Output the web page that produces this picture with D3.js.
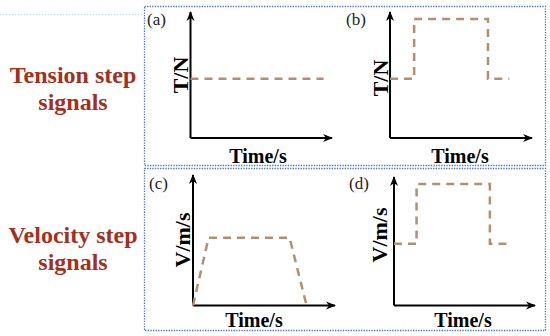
<!DOCTYPE html>
<html>
<head>
<meta charset="utf-8">
<script src="https://cdn.jsdelivr.net/npm/d3@7"></script>
<style>
  html, body { margin: 0; padding: 0; background: #fff; }
  svg { display: block; }
</style>
</head>
<body>
<svg id="chart"></svg>
<script>
(function(){

  // signal shapes, time / value in arbitrary 0..10 units
  const tensionA = [[0, 4.7], [9.4, 4.7]];
  const tensionB = [[0, 4.7], [1.7, 4.7], [1.7, 9.45], [6.9, 9.45], [6.9, 4.7], [8.4, 4.7]];
  const velocityC = [[0, 0], [1.1, 5.2], [6.8, 5.2], [8.0, 0]];
  const velocityD = [[0, 4.8], [1.6, 4.8], [1.6, 9.45], [6.8, 9.45], [6.8, 4.8], [8.4, 4.8]];

  const panelTags = ["(a)", "(b)", "(c)", "(d)"];
  const yTitles = ["T/N", "T/N", "V/m/s", "V/m/s"];
  const xTitle = "Time/s";
  const rowTitles = [["Tension step", "signals"], ["Velocity step", "signals"]];

  const width = 550, height = 336;
  const svg = d3.select("#chart").attr("width", width).attr("height", height);

  svg.append("defs").append("marker")
    .attr("id", "arrow")
    .attr("viewBox", "0 0 10 10")
    .attr("refX", 9).attr("refY", 5)
    .attr("markerWidth", 5).attr("markerHeight", 5)
    .attr("markerUnits", "strokeWidth")
    .attr("orient", "auto")
    .append("path")
    .attr("d", "M0,1 L10,5 L0,9 L3,5 Z")
    .attr("fill", "#000");

  // dotted frames for the two rows
  const frames = [{x: 144, y: 6, w: 401, h: 159}, {x: 144, y: 168, w: 401, h: 162}];
  svg.selectAll("rect.frame")
    .data(frames)
    .enter().append("rect")
      .attr("class", "frame")
      .attr("x", d => d.x + 0.5).attr("y", d => d.y + 0.5)
      .attr("width", d => d.w).attr("height", d => d.h)
      .attr("fill", "none")
      .attr("stroke", "#4a6fd0")
      .attr("stroke-width", 1.3)
      .attr("stroke-dasharray", "1.3,1.3");

  // faint leftover dotted line at top left
  svg.append("line")
    .attr("x1", 0).attr("x2", 142).attr("y1", 14.5).attr("y2", 14.5)
    .attr("stroke", "#9fe3ec").attr("stroke-width", 1).attr("stroke-dasharray", "1,2");

  // row titles
  const rowTitleY = [[83, 110], [243, 270]];
  rowTitles.forEach((lines, r) => {
    lines.forEach((t, i) => {
      svg.append("text")
        .attr("x", 73).attr("y", rowTitleY[r][i])
        .attr("text-anchor", "middle")
        .style("font", "bold 24px 'Liberation Serif', 'Times New Roman', serif")
        .attr("fill", "#a3301e")
        .text(t);
    });
  });

  // panel layout: axis origin, axis end points
  const panels = [
    {data: tensionA, x0: 190.5, x1: 332, y0: 138, y1: 12, tag: [147, 25], ylab: [188, 75], xlab: [258, 163]},
    {data: tensionB, x0: 390, x1: 532, y0: 138, y1: 12, tag: [346, 25], ylab: [388, 78], xlab: [460, 163]},
    {data: velocityC, x0: 193, x1: 335, y0: 305.5, y1: 175, tag: [149, 189], ylab: [190, 240], xlab: [254, 327]},
    {data: velocityD, x0: 394, x1: 535, y0: 305.5, y1: 177, tag: [349, 189], ylab: [387, 235], xlab: [463, 327]}
  ];

  panels.forEach((p, i) => {
    const xScale = d3.scaleLinear().domain([0, 10]).range([p.x0, p.x1]);
    const yScale = d3.scaleLinear().domain([0, 10]).range([p.y0, p.y1]);
    const g = svg.append("g");

    // axes as arrows
    g.append("line")
      .attr("x1", xScale(0)).attr("y1", yScale(0))
      .attr("x2", xScale(10)).attr("y2", yScale(0))
      .attr("stroke", "#000").attr("stroke-width", 2)
      .attr("marker-end", "url(#arrow)");
    g.append("line")
      .attr("x1", xScale(0)).attr("y1", yScale(0))
      .attr("x2", xScale(0)).attr("y2", yScale(10))
      .attr("stroke", "#000").attr("stroke-width", 2)
      .attr("marker-end", "url(#arrow)");

    const line = d3.line()
      .x(d => xScale(d[0]))
      .y(d => yScale(d[1]));

    g.append("path")
      .datum(p.data)
      .attr("d", line)
      .attr("fill", "none")
      .attr("stroke", "#b38f6e")
      .attr("stroke-width", 2.5)
      .attr("stroke-dasharray", "8,6");

    g.append("text")
      .attr("x", p.tag[0]).attr("y", p.tag[1])
      .style("font", "17px 'Liberation Serif', 'Times New Roman', serif")
      .attr("fill", "#222")
      .text(panelTags[i]);

    g.append("text")
      .attr("transform", "translate(" + p.ylab[0] + "," + p.ylab[1] + ") rotate(-90)")
      .attr("text-anchor", "middle")
      .style("font", "bold 22px 'Liberation Serif', 'Times New Roman', serif")
      .attr("fill", "#000")
      .text(yTitles[i]);

    g.append("text")
      .attr("x", p.xlab[0]).attr("y", p.xlab[1])
      .attr("text-anchor", "middle")
      .style("font", "bold 20px 'Liberation Serif', 'Times New Roman', serif")
      .attr("fill", "#000")
      .text(xTitle);
  });

})();
</script>
</body>
</html>
